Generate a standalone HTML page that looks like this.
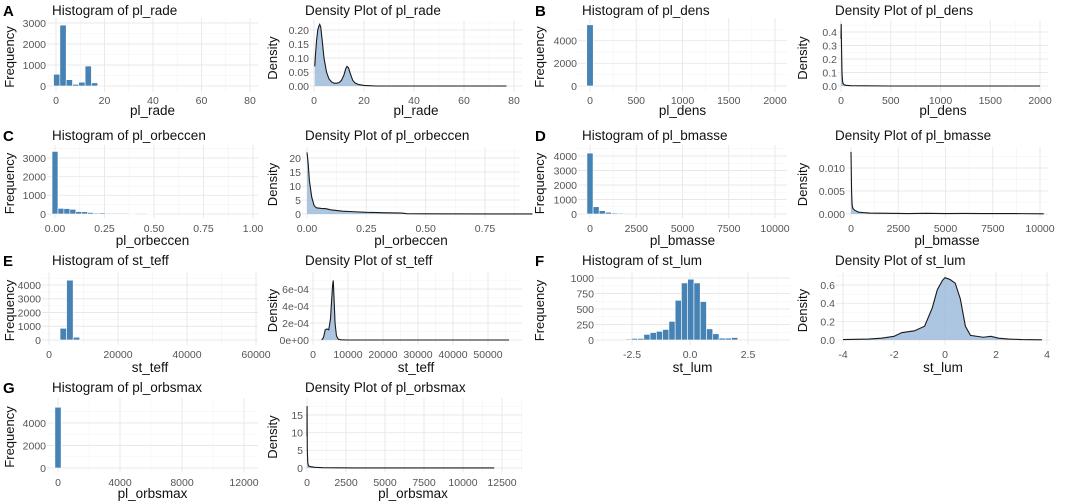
<!DOCTYPE html>
<html><head><meta charset="utf-8">
<style>
html,body{margin:0;padding:0;background:#fff;}
svg{display:block;font-family:"Liberation Sans",Arial,sans-serif;}
</style></head>
<body>
<svg id="fig" width="1065" height="502" viewBox="0 0 1065 502" xmlns="http://www.w3.org/2000/svg">
<defs><clipPath id="colclip"><rect x="0" y="0" width="528" height="502"/></clipPath></defs>
</svg>
<script>
// ---- data ----
const radeHistStart = -1.0, radeHistWidth = 2.6;
const radeCounts = [560,2900,300,80,180,950,150,30];
const radeDensX = [0.3,0.5,1,1.5,2,2.3,2.7,3.2,4,5,6,7,8,9,10,11,12,12.7,13.2,13.8,14.5,15.5,16.5,18,20,22,25,40,60,77];
const radeDensY = [0.07,0.10,0.16,0.20,0.215,0.22,0.21,0.17,0.10,0.05,0.025,0.015,0.01,0.01,0.012,0.02,0.04,0.062,0.07,0.065,0.045,0.02,0.01,0.005,0.002,0.001,0,0,0,0];

const densHistStart = -35, densHistWidth = 70;
const densCounts = [5400];
const densDensX = [0,2,5,10,15,20,30,50,100,500,1000,2000];
const densDensY = [0.35,0.46,0.30,0.10,0.04,0.02,0.01,0.005,0.002,0,0,0];

const eccHistStart = -0.015, eccHistWidth = 0.03;
const eccCounts = [3350,300,290,250,130,120,80,50,60,40,40,40,40,30,0,0,30];
const eccDensX = [0,0.005,0.01,0.02,0.03,0.04,0.06,0.08,0.1,0.15,0.2,0.25,0.3,0.4,0.42,0.5,0.75,0.95];
const eccDensY = [22,18,12,6,3,2.2,2,1.9,1.5,1.0,0.8,0.6,0.5,0.35,0.1,0.05,0.02,0.01];

const massHistStart = -165, massHistWidth = 330;
const massCounts = [4200,500,230,120,70,60];
const massDensX = [0,10,30,60,100,200,400,700,1000,2000,3000,4000,5000,6000,7000,8000,9000,10200];
const massDensY = [0.0135,0.011,0.005,0.002,0.0012,0.0008,0.0004,0.0003,0.0002,0.00015,0.0001,0.00015,0.0001,0.00012,0.0001,0.0001,0.00008,0.00005];

const teffHistStart = 3200, teffHistWidth = 1900;
const teffCounts = [850,4350,200];
const teffDensX = [2500,3000,3500,4000,4500,5000,5300,5600,5800,6000,6300,6700,7200,8000,10000,20000,40000,56000];
const teffDensY = [0,0.00003,0.00012,0.00013,0.00012,0.00025,0.00045,0.00065,0.0007,0.0005,0.0002,0.00005,0.00001,0.000002,0,0,0,0];

const lumHistStart = -2.8, lumHistWidth = 0.27;
const lumCounts = [15,25,25,90,120,140,170,300,640,920,980,920,620,180,100,30,30,40];
const lumDensX = [-4,-3,-2.5,-2,-1.7,-1.2,-0.8,-0.5,-0.3,-0.1,0,0.2,0.4,0.6,0.8,1,1.5,1.8,2.1,2.5,3,3.8];
const lumDensY = [0.005,0.01,0.02,0.04,0.08,0.1,0.15,0.35,0.55,0.65,0.68,0.66,0.62,0.45,0.15,0.05,0.03,0.04,0.02,0.01,0.005,0.002];

const smaxHistStart = -200, smaxHistWidth = 400;
const smaxCounts = [5400];
const smaxDensX = [0,5,10,20,50,100,200,500,1000,3000,12000];
const smaxDensY = [9,17.5,12,5,1.5,0.6,0.4,0.2,0.1,0.03,0.01];

// tick values and labels
const radeHistXT=[0,20,40,60,80], radeHistYT=[0,1000,2000,3000];
const radeDensXT=[0,20,40,60,80], radeDensYT=[0,0.05,0.1,0.15,0.2], radeDensYL=["0.00","0.05","0.10","0.15","0.20"];
const densHistXT=[0,500,1000,1500,2000], densHistYT=[0,2000,4000];
const densDensXT=[0,500,1000,1500,2000], densDensYT=[0,0.1,0.2,0.3,0.4], densDensYL=["0.0","0.1","0.2","0.3","0.4"];
const eccHistXT=[0,0.25,0.5,0.75,1], eccHistXL=["0.00","0.25","0.50","0.75","1.00"], eccHistYT=[0,1000,2000,3000];
const eccDensXT=[0,0.25,0.5,0.75], eccDensXL=["0.00","0.25","0.50","0.75"], eccDensYT=[0,5,10,15,20];
const massHistXT=[0,2500,5000,7500,10000], massHistYT=[0,1000,2000,3000,4000];
const massDensXT=[0,2500,5000,7500,10000], massDensYT=[0,0.005,0.01], massDensYL=["0.000","0.005","0.010"];
const teffHistXT=[0,20000,40000,60000], teffHistYT=[0,1000,2000,3000,4000];
const teffDensXT=[0,10000,20000,30000,40000,50000], teffDensYT=[0,0.0002,0.0004,0.0006], teffDensYL=["0e+00","2e-04","4e-04","6e-04"];
const lumHistXT=[-2.5,0,2.5], lumHistXL=["-2.5","0.0","2.5"], lumHistYT=[0,250,500,750,1000];
const lumDensXT=[-4,-2,0,2,4], lumDensYT=[0,0.2,0.4,0.6], lumDensYL=["0.0","0.2","0.4","0.6"];
const smaxHistXT=[0,4000,8000,12000], smaxHistYT=[0,2000,4000];
const smaxDensXT=[0,2500,5000,7500,10000,12500], smaxDensYT=[0,5,10,15];

// ---- layout ----
const rowLabelOffset=[115,120,122,123];
const panels = [
 {id:'rade',letter:'A',lx:3,row:0,col:0,hist:[radeHistStart,radeHistWidth,radeCounts],
  h:{rect:[47,258,18,92],xa:[0,56,80,250],ya:[0,86,3000,23],xt:radeHistXT,yt:radeHistYT},
  d:{rect:[310,522,20,92],xa:[0,314,80,514],ya:[0,86,0.2,30],xt:radeDensXT,yt:radeDensYT,yl:radeDensYL,x:radeDensX,y:radeDensY}},
 {id:'dens',letter:'B',lx:535,row:0,col:1,hist:[densHistStart,densHistWidth,densCounts],
  h:{rect:[578,787,18,92],xa:[0,590,2000,775],ya:[0,86,4000,40.7],xt:densHistXT,yt:densHistYT},
  d:{rect:[838,1048,20,92],xa:[0,841,2000,1040],ya:[0,86,0.4,32],xt:densDensXT,yt:densDensYT,yl:densDensYL,x:densDensX,y:densDensY}},
 {id:'orbeccen',letter:'C',lx:3,row:1,col:0,hist:[eccHistStart,eccHistWidth,eccCounts],
  h:{rect:[47,258,145,218],xa:[0,55,1,253],ya:[0,214,3000,158],xt:eccHistXT,xl:eccHistXL,yt:eccHistYT},
  d:{rect:[302,520,147,218],xa:[0,307,0.75,485],ya:[0,214,20,158],xt:eccDensXT,xl:eccDensXL,yt:eccDensYT,x:eccDensX,y:eccDensY}},
 {id:'bmasse',letter:'D',lx:535,row:1,col:1,hist:[massHistStart,massHistWidth,massCounts],
  h:{rect:[578,787,145,218],xa:[0,590,10000,775],ya:[0,214,4000,156],xt:massHistXT,yt:massHistYT},
  d:{rect:[846,1048,147,218],xa:[0,851,10000,1040],ya:[0,214,0.01,168],xt:massDensXT,yt:massDensYT,yl:massDensYL,x:massDensX,y:massDensY}},
 {id:'teff',letter:'E',lx:3,row:2,col:0,stname:true,hist:[teffHistStart,teffHistWidth,teffCounts],
  h:{rect:[42,258,272,345],xa:[0,49,60000,256],ya:[0,340,4000,285],xt:teffHistXT,yt:teffHistYT},
  d:{rect:[310,522,272,345],xa:[0,313,50000,488],ya:[0,340,0.0006,289],xt:teffDensXT,yt:teffDensYT,yl:teffDensYL,x:teffDensX,y:teffDensY}},
 {id:'lum',letter:'F',lx:535,row:2,col:1,stname:true,hist:[lumHistStart,lumHistWidth,lumCounts],
  h:{rect:[595,790,272,345],xa:[0,690,2.5,748],ya:[0,340,1000,278],xt:lumHistXT,xl:lumHistXL,yt:lumHistYT},
  d:{rect:[836,1050,272,345],xa:[-4,843,4,1047],ya:[0,340,0.6,285],xt:lumDensXT,yt:lumDensYT,yl:lumDensYL,x:lumDensX,y:lumDensY}},
 {id:'orbsmax',letter:'G',lx:3,row:3,col:0,hist:[smaxHistStart,smaxHistWidth,smaxCounts],
  h:{rect:[47,258,398,472],xa:[0,58,4000,120],ya:[0,468,4000,423],xt:smaxHistXT,yt:smaxHistYT},
  d:{rect:[304,522,398,472],xa:[0,307,2500,346],ya:[0,468,15,415],xt:smaxDensXT,yt:smaxDensYT,x:smaxDensX,y:smaxDensY}}
];

const NS='http://www.w3.org/2000/svg';
const svg=document.getElementById('fig');
function mk(tag,attrs,parent){const e=document.createElementNS(NS,tag);for(const k in attrs)e.setAttribute(k,attrs[k]);(parent||svg).appendChild(e);return e;}
function scale(a){const [v1,p1,v2,p2]=a;return v=>p1+(v-v1)*(p2-p1)/(v2-v1);}
function fmt(v){return String(v);}

function axes(g,cfg,name,xlabel,ylabel,title,titleX,rowTop,ylabX,row){
  const [x0,x1,y0,y1]=cfg.rect, sx=scale(cfg.xa), sy=scale(cfg.ya);
  const xt=cfg.xt, yt=cfg.yt;
  const dx=xt[1]-xt[0], dy=yt[1]-yt[0];
  for(let i=-1;i<xt.length;i++){const v=xt[0]+dx*(i+0.5);const p=sx(v);if(p>x0&&p<x1)mk('line',{x1:p,x2:p,y1:y0,y2:y1,stroke:'#f3f3f3','stroke-width':0.6},g);}
  for(let i=-1;i<yt.length;i++){const v=yt[0]+dy*(i+0.5);const p=sy(v);if(p>y0&&p<y1)mk('line',{x1:x0,x2:x1,y1:p,y2:p,stroke:'#f3f3f3','stroke-width':0.6},g);}
  const tickY=sy(0)+18;
  xt.forEach((v,i)=>{const p=sx(v);mk('line',{x1:p,x2:p,y1:y0,y2:y1,stroke:'#e8e8e8','stroke-width':0.9},g);
    const t=mk('text',{x:p,y:tickY,'font-size':10.5,fill:'#555','text-anchor':'middle'},g);t.textContent=cfg.xl?cfg.xl[i]:fmt(v);
    
    });
  yt.forEach((v,i)=>{const p=sy(v);mk('line',{x1:x0,x2:x1,y1:p,y2:p,stroke:'#e8e8e8','stroke-width':0.9},g);
    const t=mk('text',{x:x0-1,y:p+3.8,'font-size':10.5,fill:'#555','text-anchor':'end'},g);t.textContent=cfg.yl?cfg.yl[i]:fmt(v);
    
    });
  const tt=mk('text',{x:titleX,y:rowTop+15,'font-size':13.5,fill:'#111'},g);tt.textContent=title;
  
  
  const xl=mk('text',{x:(x0+x1)/2,y:row*125+rowLabelOffset[row],'font-size':13.5,fill:'#111','text-anchor':'middle'},g);xl.textContent=xlabel;
  
  
  const cy=(y0+y1)/2+2;
  const yl=mk('text',{x:ylabX,y:cy,'font-size':13,fill:'#111','text-anchor':'middle',transform:`rotate(-90 ${ylabX} ${cy})`},g);yl.textContent=ylabel;
  
  
  return [sx,sy];
}

panels.forEach(P=>{
  const rowTop=P.row*125+(P.row===3?2:0);
  const off=P.col*530;
  const G=mk('g',{});
  
  
  const L=mk('text',{x:P.lx,y:rowTop+16,'font-size':15,'font-weight':'bold',fill:'#000'},G);L.textContent=P.letter;
  
  
  const vname=(P.stname?'st_':'pl_')+P.id;
  const hg=mk('g',{},G);
  
  
  const [hsx,hsy]=axes(hg,P.h,'histogram-'+P.id,vname,'Frequency','Histogram of '+vname,off+52,rowTop,off+14,P.row);
  const [hs,hw,hc]=P.hist;
  hc.forEach((c,i)=>{
    if(c<=0)return;
    const xa=hsx(hs+hw*i), xb=hsx(hs+hw*(i+1));
    const r=mk('rect',{x:xa,y:hsy(c),width:Math.max(xb-xa,1),height:hsy(0)-hsy(c),fill:'#4682b4',stroke:'#ffffff','stroke-width':0.6},hg);
    
    
  });
  const dg=mk('g',{},G);
  if(P.id==='orbsmax')dg.setAttribute('clip-path','url(#colclip)');
  
  
  const D=P.d;
  const [dsx,dsy]=axes(dg,D,'density-'+P.id,vname,'Density','Density Plot of '+vname,off+305,rowTop,off+277,P.row);
  let line='';D.x.forEach((v,i)=>{line+=(i?'L':'M')+dsx(v).toFixed(2)+','+dsy(D.y[i]).toFixed(2);});
  const area=line+'L'+dsx(D.x[D.x.length-1]).toFixed(2)+','+dsy(0)+'L'+dsx(D.x[0]).toFixed(2)+','+dsy(0)+'Z';
  const a=mk('path',{d:area,fill:'#9dbcdc','fill-opacity':0.85,stroke:'none'},dg);
  
  
  const l=mk('path',{d:line,fill:'none',stroke:'#1a1a1a','stroke-width':1.1},dg);
  
  
});
</script>
</body></html>
